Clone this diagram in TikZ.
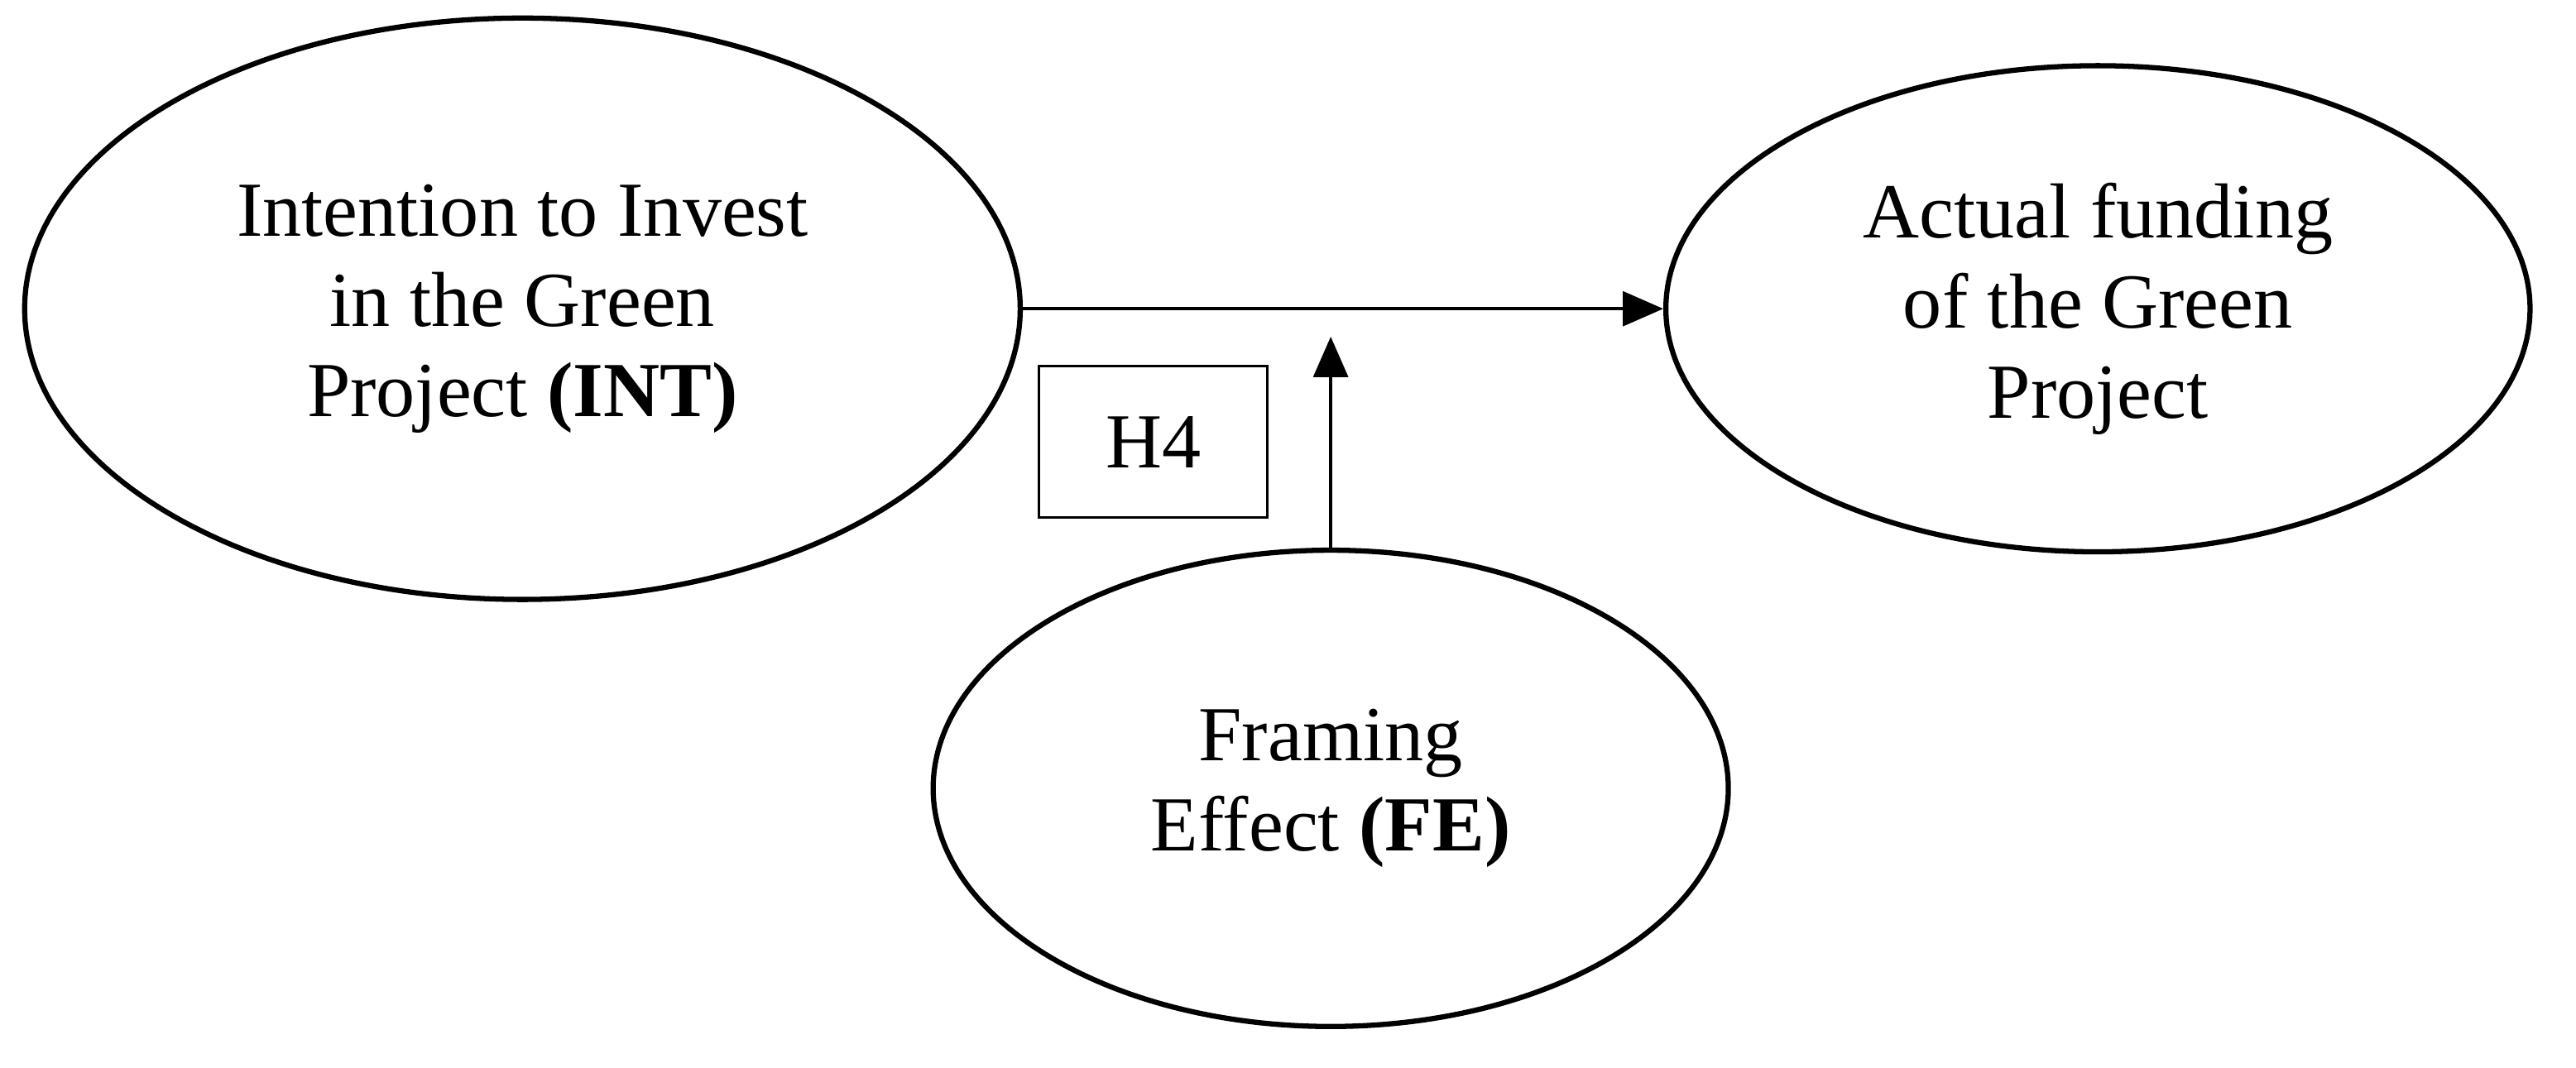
\documentclass[tikz,border=0pt]{standalone}
\usepackage{fontspec}
\setmainfont{Liberation Serif}
\usetikzlibrary{
    arrows.meta,
    shapes.geometric,
    positioning
}

\begin{document}
\begin{tikzpicture}[
    construct/.style={ellipse,draw,line width=0.9pt,inner sep=0pt,align=center,
        font=\fontsize{13.5}{15.6}\selectfont},
    path/.style={line width=0.5pt,-{Triangle[length=7pt,width=6pt]}},
    hyp/.style={draw,line width=0.5pt,minimum width=1.39cm,minimum height=0.92cm,
        font=\fontsize{13.5}{15.6}\selectfont}
]
    \useasboundingbox (0,0) rectangle (15.68,6.5);

    \node[construct,minimum width=6.06cm,minimum height=3.54cm] (int) at (3.18,4.62)
        {Intention to Invest\\in the Green\\Project \textbf{(INT)}};
    \node[construct,minimum width=5.26cm,minimum height=2.96cm] (act) at (12.77,4.62)
        {Actual funding\\of the Green\\Project};
    \node[construct,minimum width=4.84cm,minimum height=2.9cm] (fe) at (8.10,1.70)
        {Framing\\Effect \textbf{(FE)}};
    \node[hyp] (h4) at (7.02,3.81) {H4};

    \coordinate (mod) at (fe.north |- 0,4.45);

    \draw[path] (int.east) -- (act.west);
    \draw[path] (fe.north) -- (mod);
\end{tikzpicture}
\end{document}
